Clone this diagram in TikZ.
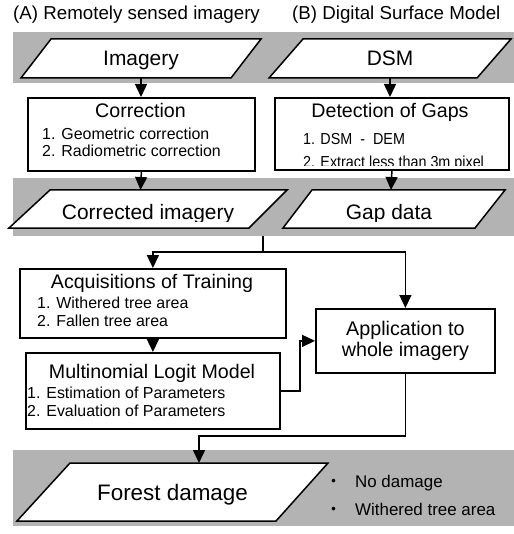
\documentclass[tikz,border=0pt]{standalone}
\usepackage{fontspec}
\setmainfont{Liberation Sans}
\newfontfamily\cjk{Noto Sans CJK JP}
\usetikzlibrary{arrows.meta}
\definecolor{bandgray}{RGB}{179,179,179}
\begin{document}
\begin{tikzpicture}[x=1bp,y=-1bp,
  para/.style={draw,fill=white,line width=1.5bp,line join=miter},
  box/.style={draw,fill=white,line width=1.8bp,inner sep=0,anchor=north west},
  arr/.style={line width=1.5bp,-{Triangle[width=12bp,length=13bp]}},
  ln/.style={line width=1.5bp},
  ttl/.style={font=\fontsize{19.7}{22}\selectfont,anchor=base,inner sep=0},
  lst/.style={font=\fontsize{16}{18}\selectfont,anchor=base west,inner sep=0},
  plab/.style={font=\fontsize{21}{24}\selectfont,anchor=base,inner sep=0},
  hdr/.style={font=\fontsize{18.8}{22}\selectfont,anchor=west,inner sep=0},
  bul/.style={font=\fontsize{17}{20}\selectfont,anchor=base west,inner sep=0},
]
\useasboundingbox (0,0) rectangle (514,534);

% headers
\node[hdr] (ha) at (13,15) {(A) Remotely sensed imagery};
\node[hdr] (hb) at (292,15) {(B) Digital Surface Model};

% gray bands
\fill[bandgray] (13,32) rectangle (514,83);
\fill[bandgray] (13,178) rectangle (514,236);
\fill[bandgray] (13,450) rectangle (514,526);

% top parallelograms
\draw[para] (51,39) -- (261,39) -- (231,78) -- (21,78) -- cycle;
\node[plab] (imagery) at (141,66) {Imagery};
\coordinate (imgB) at (141,78);
\draw[para] (303,39) -- (511,39) -- (477,78) -- (269,78) -- cycle;
\node[plab] (dsm) at (390,66) {DSM};
\coordinate (dsmB) at (390,78);

% correction box
\node[box,minimum width=227bp,minimum height=73bp] (corr) at (27,97) {};
\node[ttl] (corrT) at (140.5,118) {Correction};
\node[lst] (corr1) at (42,140) {1. Geometric correction};
\node[lst] (corr2) at (42,157) {2. Radiometric correction};

% detection box
\node[box,minimum width=234bp,minimum height=72bp] (det) at (274,97) {};
\node[ttl] (detT) at (390,118) {Detection of Gaps};
\node[lst] (det1) at (303,145) {\scalebox{0.9}[1]{1. DSM\ \ -\ \ DEM}};
\begin{scope}
  \clip (274,97) rectangle (508,166);
  \node[lst] (det2) at (303,167.5) {\scalebox{0.9}[1]{2. Extract less than 3m pixel}};
\end{scope}

\draw[arr] (imgB) -- (imgB |- corr.north);
\draw[arr] (dsmB) -- (dsmB |- det.north);

% middle parallelograms
\draw[para] (50,190) -- (287,190) -- (249,228) -- (9,228) -- cycle;
\draw[para] (312,190) -- (505,190) -- (475,228) -- (283,228) -- cycle;
\begin{scope}
  \clip (0,180) rectangle (514,221.5);
  \node[plab] (cimg) at (148,219) {Corrected imagery};
  \node[plab] (gap) at (389,219) {Gap data};
\end{scope}
\coordinate (cimgT) at (140.5,190);
\coordinate (gapT) at (391,190);
\draw[arr] (corr.south) -- (cimgT);
\draw[arr] (det.south) -- (gapT);

% lower boxes
\node[box,minimum width=266bp,minimum height=69bp] (acq) at (19,268) {};
\node[ttl] (acqT) at (152,288) {Acquisitions of Training};
\node[lst] (acq1) at (37,308) {1. Withered tree area};
\node[lst] (acq2) at (37,326) {2. Fallen tree area};

\node[box,minimum width=254bp,minimum height=76bp] (mlm) at (25,352) {};
\node[ttl] (mlmT) at (152,378) {Multinomial Logit Model};
\node[lst] (mlm1) at (27,398) {1. Estimation of Parameters};
\node[lst] (mlm2) at (27,416) {2. Evaluation of Parameters};

\node[box,minimum width=179bp,minimum height=64bp,align=center,
      font=\fontsize{19.8}{21}\selectfont] (app) at (315,308)
      {Application to\\whole imagery};

% split connector
\coordinate (split) at (263,236);
\coordinate (splitJ) at (263,252);
\draw[ln] (split) -- (splitJ);
\draw[arr] (splitJ) -| (acq.north);
\draw[arr] (splitJ) -| (app.north);
\draw[arr] (acq.south) -- (mlm.north);
\draw[arr] (mlm.east) -- ++(19,0) |- (app.west);

% forest damage
\draw[para] (70,463) -- (328,463) -- (276,521) -- (17,521) -- cycle;
\node[font=\fontsize{22.5}{26}\selectfont,anchor=base,inner sep=0] (forest) at (172.5,500) {Forest damage};
\coordinate (fturn) at (199,436);
\coordinate (fT) at (199,463);
\draw[arr] (app.south) |- (fturn) -- (fT);

\node[bul] (b1) at (325,487) {{\cjk ・}\hspace{13bp}No damage};
\node[bul] (b2) at (325,515) {{\cjk ・}\hspace{13bp}Withered tree area};
\end{tikzpicture}
\end{document}
